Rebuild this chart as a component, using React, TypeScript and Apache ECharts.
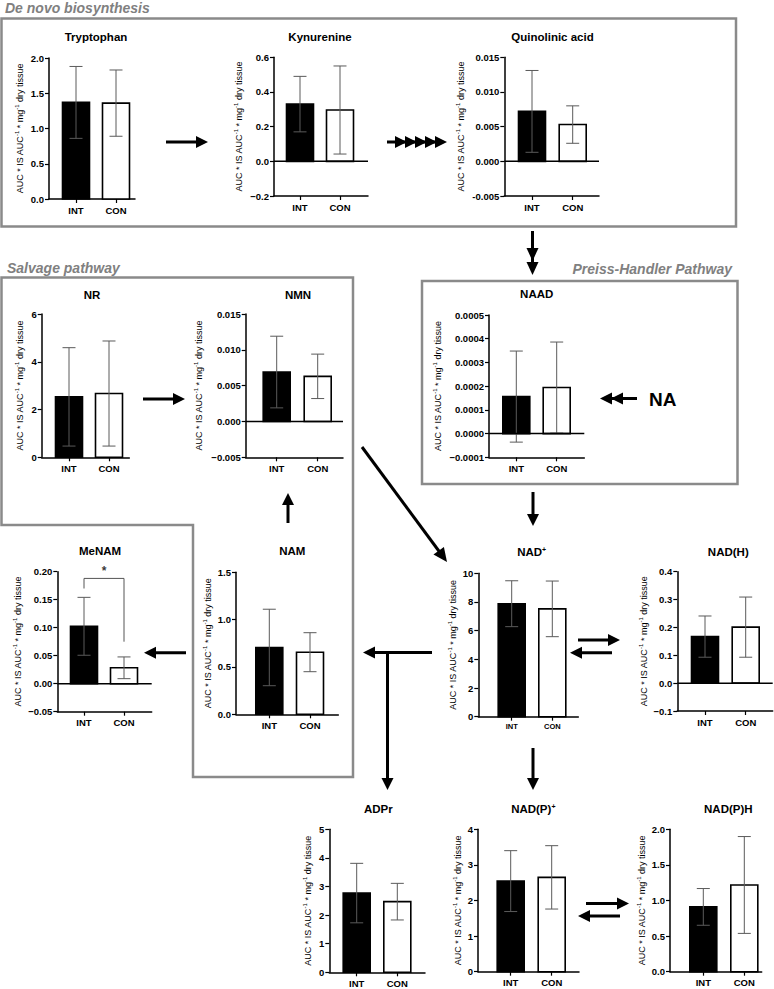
import React, { useEffect, useRef } from 'react';
import * as echarts from 'echarts';

// ---------- data ----------
const groups = ['INT', 'CON'];
const yAxisName = 'AUC * IS AUC{sup|-1} * mg{sup|-1} dry tissue';

const tryptophanMean = [1.37, 1.36];
const tryptophanSd = [0.51, 0.47];
const tryptophanAxis = [0, 2, 0.5];

const kynurenineMean = [0.33, 0.296];
const kynurenineSd = [0.16, 0.254];
const kynurenineAxis = [-0.2, 0.6, 0.2];

const quinolinicMean = [0.0072, 0.0053];
const quinolinicSd = [0.0059, 0.0027];
const quinolinicAxis = [-0.005, 0.015, 0.005];

const nrMean = [2.53, 2.67];
const nrSd = [2.06, 2.2];
const nrAxis = [0, 6, 2];

const nmnMean = [0.0069, 0.0063];
const nmnSd = [0.005, 0.0031];
const nmnAxis = [-0.005, 0.015, 0.005];

const naadMean = [0.000156, 0.000194];
const naadSd = [0.000192, 0.000192];
const naadAxis = [-0.0001, 0.0005, 0.0001];

const menamMean = [0.1025, 0.0284];
const menamSd = [0.0517, 0.0194];
const menamAxis = [-0.05, 0.2, 0.05];
const menamBracket = [0.17, 0.188, 0.075]; // INT leg end, bar height, CON leg end

const namMean = [0.706, 0.656];
const namSd = [0.404, 0.206];
const namAxis = [0, 1.5, 0.5];

const nadMean = [7.88, 7.52];
const nadSd = [1.6, 1.94];
const nadAxis = [0, 10, 2];

const nadhMean = [0.167, 0.201];
const nadhSd = [0.074, 0.108];
const nadhAxis = [-0.1, 0.4, 0.1];

const adprMean = [2.77, 2.47];
const adprSd = [1.04, 0.64];
const adprAxis = [0, 5, 1];

const nadpMean = [2.545, 2.65];
const nadpSd = [0.855, 0.89];
const nadpAxis = [0, 4, 1];

const nadphMean = [0.91, 1.218];
const nadphSd = [0.258, 0.68];
const nadphAxis = [0, 2, 0.5];

// ---------- layout ----------
const FONT = "'Liberation Sans', Arial, Helvetica, sans-serif";
const GRAY = '#8a8a8a';

type Panel = {
  title: string; mean: number[]; sd: number[]; axis: number[]; dec: number; minus: string;
  ax: number; xEnd: number; cI: number; cC: number; top: number; bottom: number;
  labelX: number; titleX: number; titleY: number; catFont?: number;
};

const panels: Panel[] = [
  { title: 'Tryptophan', mean: tryptophanMean, sd: tryptophanSd, axis: tryptophanAxis, dec: 1, minus: '\u2212', ax: 49, xEnd: 135, cI: 76, cC: 116, top: 58, bottom: 199, labelX: 20, titleX: 96, titleY: 37 },
  { title: 'Kynurenine', mean: kynurenineMean, sd: kynurenineSd, axis: kynurenineAxis, dec: 1, minus: '\u2212', ax: 274, xEnd: 368, cI: 300, cC: 340, top: 57.3, bottom: 196, labelX: 239.3, titleX: 320, titleY: 37 },
  { title: 'Quinolinic acid', mean: quinolinicMean, sd: quinolinicSd, axis: quinolinicAxis, dec: 3, minus: '-', ax: 504.3, xEnd: 599, cI: 532, cC: 572.7, top: 57.3, bottom: 196, labelX: 461, titleX: 552.5, titleY: 37 },
  { title: 'NR', mean: nrMean, sd: nrSd, axis: nrAxis, dec: 0, minus: '\u2212', ax: 41.7, xEnd: 129.3, cI: 69, cC: 109, top: 314, bottom: 457.3, labelX: 20, titleX: 92, titleY: 295 },
  { title: 'NMN', mean: nmnMean, sd: nmnSd, axis: nmnAxis, dec: 3, minus: '\u2212', ax: 245.7, xEnd: 343, cI: 276.7, cC: 317.7, top: 314, bottom: 457.3, labelX: 199.3, titleX: 298, titleY: 295 },
  { title: 'NAAD', mean: naadMean, sd: naadSd, axis: naadAxis, dec: 4, minus: '\u2212', ax: 489, xEnd: 584.3, cI: 516.3, cC: 556.7, top: 315, bottom: 457.3, labelX: 438.3, titleX: 536.7, titleY: 294.3 },
  { title: 'MeNAM', mean: menamMean, sd: menamSd, axis: menamAxis, dec: 2, minus: '\u2212', ax: 57.3, xEnd: 151.7, cI: 84, cC: 124, top: 571.7, bottom: 711.7, labelX: 19, titleX: 100, titleY: 551 },
  { title: 'NAM', mean: namMean, sd: namSd, axis: namAxis, dec: 1, minus: '\u2212', ax: 236, xEnd: 338.3, cI: 269.3, cC: 310, top: 572.3, bottom: 714.3, labelX: 213.3, titleX: 292.3, titleY: 551 },
  { title: 'NAD{sup|+}', mean: nadMean, sd: nadSd, axis: nadAxis, dec: 0, minus: '\u2212', ax: 478.3, xEnd: 578.3, cI: 511.7, cC: 552.3, top: 573.3, bottom: 716.7, labelX: 456.7, titleX: 531.7, titleY: 552.3, catFont: 7.5 },
  { title: 'NAD(H)', mean: nadhMean, sd: nadhSd, axis: nadhAxis, dec: 1, minus: '\u2212', ax: 677.3, xEnd: 772.7, cI: 705, cC: 745.7, top: 571.7, bottom: 711, labelX: 645, titleX: 728.3, titleY: 552.3 },
  { title: 'ADPr', mean: adprMean, sd: adprSd, axis: adprAxis, dec: 0, minus: '\u2212', ax: 329.3, xEnd: 425, cI: 356.7, cC: 397.3, top: 829.3, bottom: 972.3, labelX: 308.3, titleX: 378.3, titleY: 809.3 },
  { title: 'NAD(P){sup|+}', mean: nadpMean, sd: nadpSd, axis: nadpAxis, dec: 0, minus: '\u2212', ax: 478, xEnd: 579, cI: 510.7, cC: 551.7, top: 829.3, bottom: 971.7, labelX: 460, titleX: 533.3, titleY: 809.3 },
  { title: 'NAD(P)H', mean: nadphMean, sd: nadphSd, axis: nadphAxis, dec: 1, minus: '\u2212', ax: 670, xEnd: 761.7, cI: 703.3, cC: 744.3, top: 829.3, bottom: 971.7, labelX: 645, titleX: 728.3, titleY: 809.3 },
];

const MENAM_INDEX = 6;

function xRange(p: Panel) {
  const u = p.cC - p.cI;
  return [1 - (p.cI - p.ax) / u, 2 + (p.xEnd - p.cC) / u];
}

function fmt(v: number, dec: number, minus: string) {
  const s = Math.abs(v).toFixed(dec);
  const zero = Math.abs(v) < 1e-12;
  return (v < 0 && !zero ? minus : '') + s;
}

// arrow builder (layout graphics)
function arrow(x1: number, y1: number, x2: number, y2: number, heads = 1, spacing = 11, L = 12, W = 6): any[] {
  const len = Math.hypot(x2 - x1, y2 - y1);
  const dx = (x2 - x1) / len, dy = (y2 - y1) / len;
  const nx = -dy, ny = dx;
  const els: any[] = [];
  els.push({
    type: 'line', silent: true,
    shape: { x1, y1, x2: x2 - dx * L * 0.6, y2: y2 - dy * L * 0.6 },
    style: { stroke: '#000', lineWidth: 3 },
  });
  for (let k = 0; k < heads; k++) {
    const tx = x2 - dx * spacing * k, ty = y2 - dy * spacing * k;
    const bx = tx - dx * L, by = ty - dy * L;
    els.push({
      type: 'polygon', silent: true,
      shape: { points: [[tx, ty], [bx + nx * W, by + ny * W], [bx - nx * W, by - ny * W]] },
      style: { fill: '#000' },
    });
  }
  return els;
}

const supRich = {
  sup: { fontSize: 6, fontFamily: FONT, color: '#000', verticalAlign: 'top', lineHeight: 8 },
};

function buildOption() {
  const grid: any[] = [];
  const xAxis: any[] = [];
  const yAxis: any[] = [];
  const series: any[] = [];
  const graphic: any[] = [];

  panels.forEach((p, i) => {
    const [xmin, xmax] = xRange(p);
    grid.push({ left: p.ax, top: p.top, width: p.xEnd - p.ax, height: p.bottom - p.top, containLabel: false });
    xAxis.push({
      type: 'value', gridIndex: i, min: xmin, max: xmax,
      axisLine: { show: true, onZero: false, lineStyle: { color: '#000', width: 1.5 } },
      axisTick: { show: true, customValues: [1, 2], length: 4, lineStyle: { color: '#000', width: 1.2 } },
      axisLabel: {
        show: true, customValues: [1, 2], formatter: (v: number) => groups[Math.round(v) - 1] ?? '',
        fontSize: p.catFont ?? 9.5, fontWeight: 'bold', color: '#000', fontFamily: FONT, margin: 6,
      },
      splitLine: { show: false },
    });
    yAxis.push({
      type: 'value', gridIndex: i, min: p.axis[0], max: p.axis[1], interval: p.axis[2],
      axisLine: { show: true, lineStyle: { color: '#000', width: 1.5 } },
      axisTick: { show: true, length: 4, lineStyle: { color: '#000', width: 1.2 } },
      axisLabel: {
        fontSize: 9.5, fontWeight: 'bold', color: '#000', fontFamily: FONT, margin: 5,
        formatter: (v: number) => fmt(v, p.dec, p.minus),
      },
      splitLine: { show: false },
      name: yAxisName, nameLocation: 'middle', nameRotate: 90, nameGap: p.ax - p.labelX - 6,
      nameTextStyle: { fontSize: 9, fontFamily: FONT, color: '#000', lineHeight: 12, rich: { sup: { fontSize: 6, fontFamily: FONT, color: '#000', verticalAlign: 'top', lineHeight: 8 } } },
    });

    series.push({
      type: 'custom', xAxisIndex: i, yAxisIndex: i, clip: false, silent: true,
      data: p.mean.map((m, k) => [k + 1, m, p.sd[k]]),
      encode: { x: 0, y: 1 },
      renderItem: (params: any, api: any) => {
        const x = api.value(0), m = api.value(1), s = api.value(2);
        const base = api.coord([x, 0]);
        const top = api.coord([x, m]);
        const lo = api.coord([x, m - s]);
        const hi = api.coord([x, m + s]);
        const hw = 13.5, cap = 6.5;
        const idx = params.dataIndex;
        return {
          type: 'group',
          children: [
            { type: 'rect', shape: { x: top[0] - hw, y: Math.min(top[1], base[1]), width: hw * 2, height: Math.abs(base[1] - top[1]) },
              style: { fill: idx === 0 ? '#000' : '#fff', stroke: '#000', lineWidth: 1.6 } },
            { type: 'line', shape: { x1: lo[0], y1: lo[1], x2: hi[0], y2: hi[1] }, style: { stroke: '#5a5a5a', lineWidth: 1 } },
            { type: 'line', shape: { x1: hi[0] - cap, y1: hi[1], x2: hi[0] + cap, y2: hi[1] }, style: { stroke: '#5a5a5a', lineWidth: 1 } },
            { type: 'line', shape: { x1: lo[0] - cap, y1: lo[1], x2: lo[0] + cap, y2: lo[1] }, style: { stroke: '#5a5a5a', lineWidth: 1 } },
          ],
        };
      },
    });

    if (p.axis[0] < 0) {
      series.push({
        type: 'line', xAxisIndex: i, yAxisIndex: i, silent: true, symbol: 'none',
        data: [[xmin, 0], [xmax, 0]],
        lineStyle: { color: '#000', width: 1.5 },
      });
    }

    graphic.push({
      type: 'text', silent: true,
      style: {
        text: p.title, x: p.titleX, y: p.titleY, align: 'center', verticalAlign: 'middle',
        fontSize: 11.5, fontWeight: 'bold', fontFamily: FONT, fill: '#000',
        rich: { sup: { fontSize: 7, fontWeight: 'bold', fontFamily: FONT, fill: '#000', verticalAlign: 'top', lineHeight: 9 } },
      },
    });
  });

  // significance bracket for MeNAM
  series.push({
    type: 'line', xAxisIndex: MENAM_INDEX, yAxisIndex: MENAM_INDEX, silent: true, symbol: 'none',
    data: [[1, menamBracket[0]], [1, menamBracket[1]], [2, menamBracket[1]], [2, menamBracket[2]]],
    lineStyle: { color: '#555', width: 1 },
  });
  series.push({
    type: 'scatter', xAxisIndex: MENAM_INDEX, yAxisIndex: MENAM_INDEX, silent: true, symbolSize: 0,
    data: [[1.5, menamBracket[1]]],
    label: { show: true, formatter: '*', position: 'top', distance: 1, fontSize: 12, fontWeight: 'bold', color: '#000', fontFamily: FONT },
  });

  // boxes
  graphic.push({ type: 'rect', silent: true, shape: { x: 1.5, y: 18.5, width: 734.5, height: 208 }, style: { fill: 'none', stroke: GRAY, lineWidth: 2.5 } });
  graphic.push({ type: 'polygon', silent: true, shape: { points: [[1.5, 277.5], [353, 277.5], [353, 777], [193, 777], [193, 525], [1.5, 525]] }, style: { fill: 'none', stroke: GRAY, lineWidth: 2.5 } });
  graphic.push({ type: 'rect', silent: true, shape: { x: 422, y: 281, width: 315.5, height: 203 }, style: { fill: 'none', stroke: GRAY, lineWidth: 2.5 } });

  // section labels
  const sec = { fontSize: 14, fontWeight: 'bold', fontStyle: 'italic', fontFamily: FONT, fill: '#808080', verticalAlign: 'middle' };
  graphic.push({ type: 'text', silent: true, style: { ...sec, text: 'De novo biosynthesis', x: 5, y: 8, align: 'left' } });
  graphic.push({ type: 'text', silent: true, style: { ...sec, text: 'Salvage pathway', x: 7, y: 267.5, align: 'left' } });
  graphic.push({ type: 'text', silent: true, style: { ...sec, text: 'Preiss-Handler Pathway', x: 732, y: 269, align: 'right' } });
  graphic.push({ type: 'text', silent: true, style: { text: 'NA', x: 649, y: 399, align: 'left', verticalAlign: 'middle', fontSize: 19, fontWeight: 'bold', fontFamily: FONT, fill: '#000' } });

  // arrows
  const arrows: any[] = [
    ...arrow(166, 142, 208, 142),
    ...arrow(387, 142, 447, 142, 5, 10, 12, 6),
    ...arrow(532.5, 231, 532.5, 275, 2, 14, 13, 6),
    ...arrow(637, 398.5, 600, 398.5, 2, 11, 12, 6),
    ...arrow(143, 399, 185, 399),
    ...arrow(288, 523, 288, 493),
    ...arrow(362, 447, 447, 562, 1, 11, 14, 6.5),
    ...arrow(533, 492, 533, 526),
    ...arrow(432, 652.5, 363, 652.5),
    ...arrow(387.5, 652.5, 387.5, 790),
    ...arrow(186, 652.7, 144, 652.7),
    ...arrow(578, 640, 620, 640),
    ...arrow(612, 652.7, 570, 652.7),
    ...arrow(533, 748, 533, 790),
    ...arrow(586, 903.5, 629, 903.5),
    ...arrow(620, 916, 578, 916),
  ];
  graphic.push(...arrows);

  return { animation: false, backgroundColor: '#fff', grid, xAxis, yAxis, series, graphic };
}

export default function App() {
  const ref = useRef<HTMLDivElement>(null);
  useEffect(() => {
    if (!ref.current) return;
    const chart = echarts.init(ref.current, undefined, { renderer: 'svg' });
    chart.setOption(buildOption() as any);
    return () => chart.dispose();
  }, []);
  return <div ref={ref} style={{ position: 'absolute', left: 0, top: 0, width: 774, height: 989, background: '#fff' }} />;
}
